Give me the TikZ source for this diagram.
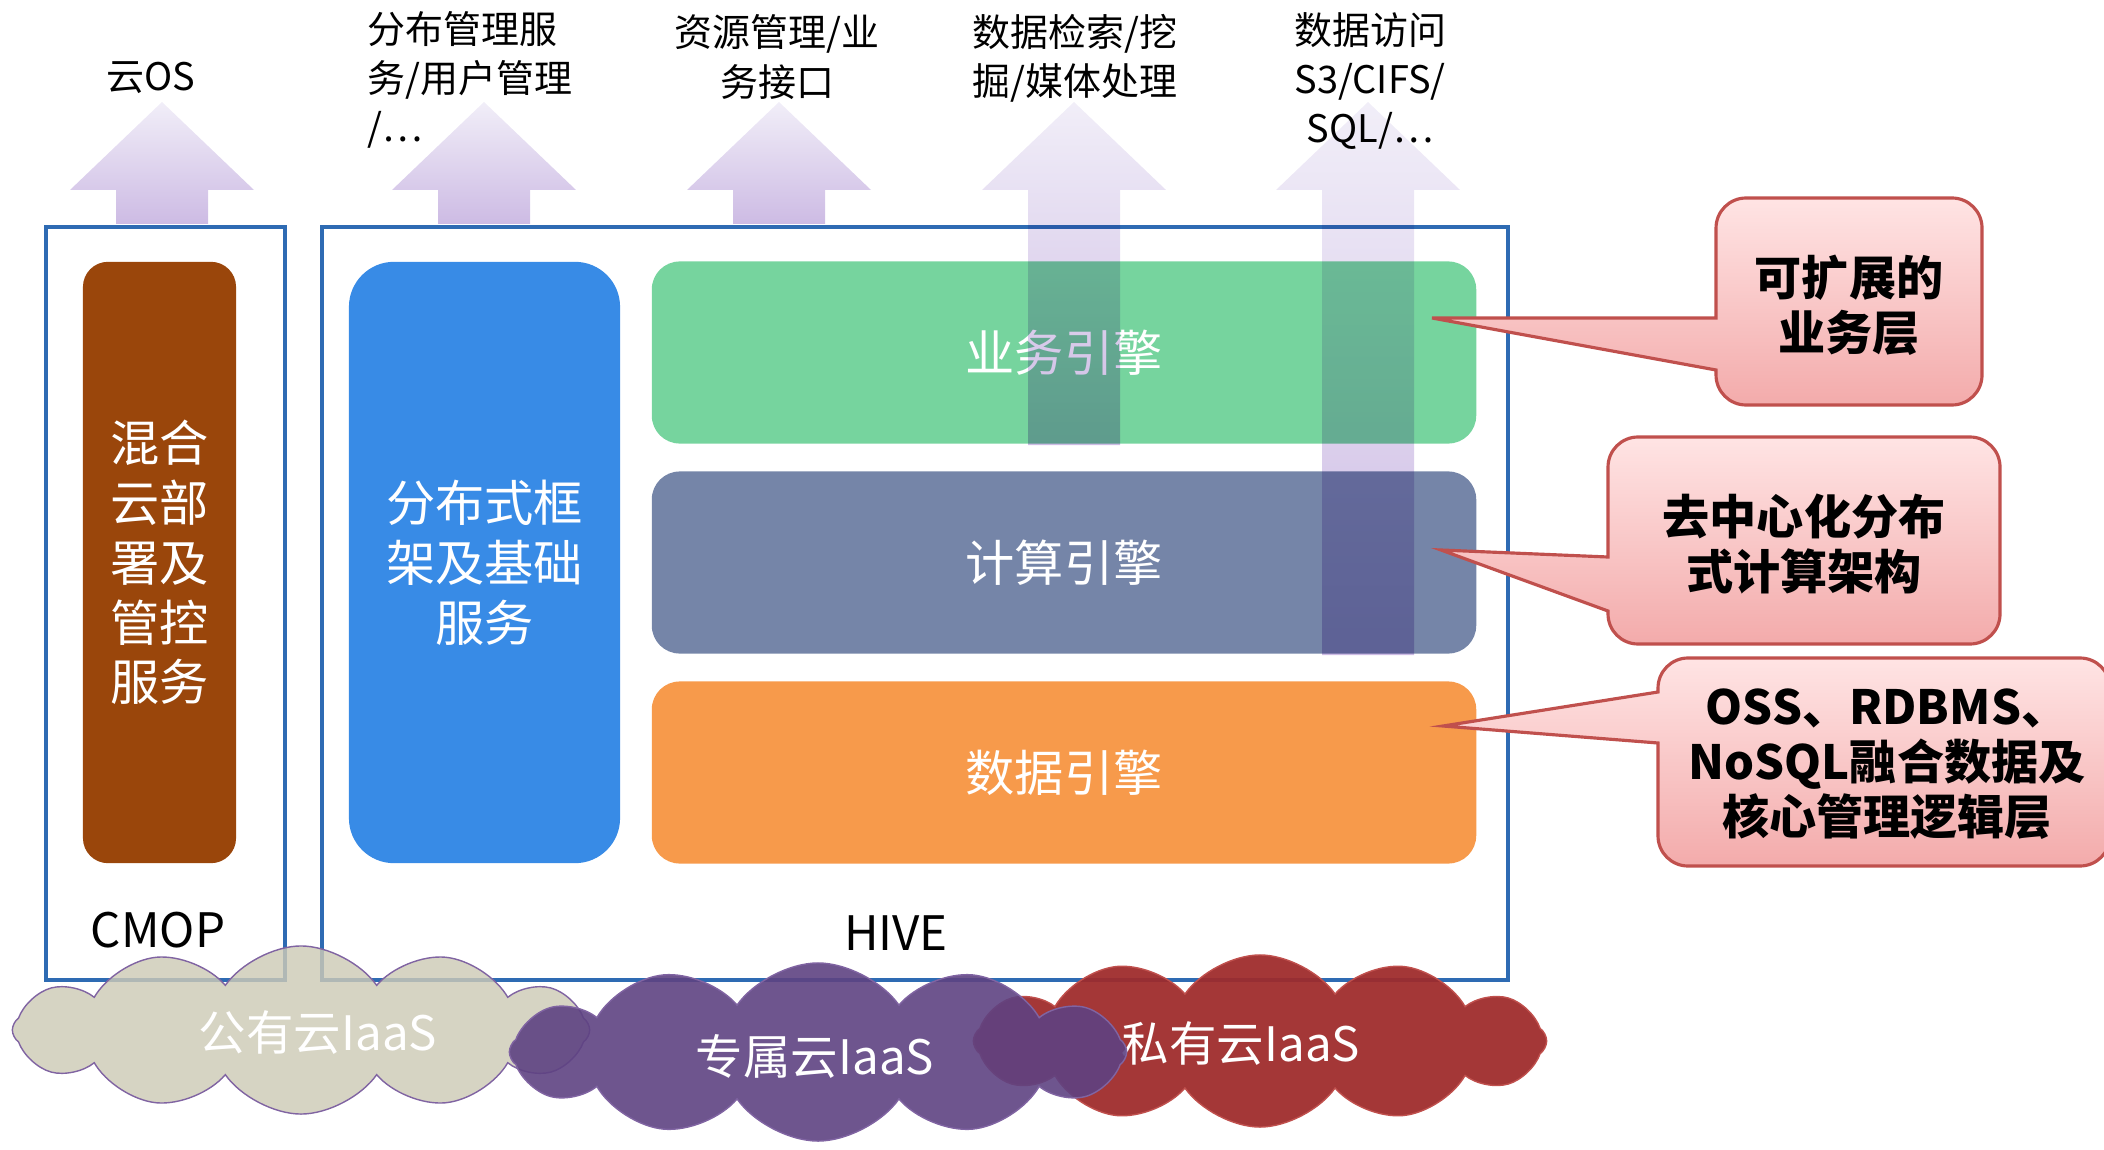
\documentclass[tikz,border=0pt]{standalone}
\usepackage{fontspec}
\setmainfont{Noto Sans CJK SC}
\usetikzlibrary{shapes.symbols}

\definecolor{hiveblue}{HTML}{2E6BB3}
\definecolor{cmopbrown}{HTML}{9A460B}
\definecolor{frameblue}{HTML}{388BE6}
\definecolor{bizgreen}{HTML}{76D49E}
\definecolor{calcslate}{HTML}{7585A8}
\definecolor{dataorange}{HTML}{F79A4B}
\definecolor{arrtop}{HTML}{F1EEF8}
\definecolor{arrbot}{HTML}{CDBBE4}
\definecolor{calltop}{HTML}{FFE4E4}
\definecolor{callbot}{HTML}{F3ABAB}
\definecolor{callline}{HTML}{C0504D}
\definecolor{pubcloud}{HTML}{CDCAB6}
\definecolor{dedcloud}{HTML}{5E4282}
\definecolor{privcloud}{HTML}{9E2B2B}
\definecolor{cloudline}{HTML}{8064A2}

\begin{document}
\begin{tikzpicture}[x=0.01cm, y=-0.01cm,
    frame/.style={draw=hiveblue, line width=1.2pt, inner sep=0pt},
    bar/.style={rounded corners=#1, inner sep=0pt, text=white, align=center,
      font=\fontsize{14}{17}\selectfont},
    engine/.style={bar=0.28cm, minimum width=8.24cm, minimum height=1.82cm},
    toplbl/.style={align=center, font=\fontsize{10.8}{14}\selectfont},
    boxlbl/.style={font=\fontsize{13.5}{16}\selectfont},
    callout/.style={draw=callline, line width=0.9pt, top color=calltop, bottom color=callbot},
    note/.style={align=center, font=\bfseries\fontsize{13.4}{15.6}\selectfont},
    iaas/.style={cloud, cloud puffs=12, cloud puff arc=110, aspect=3, inner sep=0pt},
    iaaslbl/.style={text=white, font=\fontsize{13.5}{16}\selectfont}]
  \useasboundingbox (0,0) rectangle (2104,1149);

  % frames
  \node[frame, minimum width=2.39cm, minimum height=7.53cm] (cmop) at (165.5,603.5) {};
  \node[frame, minimum width=11.86cm, minimum height=7.53cm] (hive) at (915,603.5) {};
  \node[boxlbl] (cmoplbl) at (158,930) {CMOP};
  \node[boxlbl] (hivelbl) at (896,933) {HIVE};

  \node[bar=0.25cm, fill=cmopbrown, minimum width=1.53cm, minimum height=6.01cm] (mgmt)
    at (159.5,562.5) {混合\\云部\\署及\\管控\\服务};
  \node[bar=0.45cm, fill=frameblue, minimum width=2.71cm, minimum height=6.01cm] (dist)
    at (484.5,562.5) {分布式框\\架及基础\\服务};
  \node[engine, fill=bizgreen] (biz) at (1064,352.5) {业务引擎};
  \node[engine, fill=calcslate] (calc) at (1064,562.5) {计算引擎};
  \node[engine, fill=dataorange] (data) at (1064,772.5) {数据引擎};

  % up arrows
  \begin{scope}[blend mode=multiply]
    \foreach \cx/\yb in {162/224,484/224,779/224,1074/445,1368/655}
      \shade[top color=arrtop, bottom color=arrbot] (\cx,102) -- (\cx+92,190)
        -- (\cx+46,190) -- (\cx+46,\yb) -- (\cx-46,\yb) -- (\cx-46,190)
        -- (\cx-92,190) -- cycle;
  \end{scope}

  \node[toplbl] (cloudos) at (151,78) {云OS};
  \node[toplbl, align=left, anchor=west, inner sep=0pt] (usermgmt) at (367,80)
    {分布管理服\\务/用户管理\\/…};
  \node[toplbl] (resmgmt) at (777,57) {资源管理/业\\务接口};
  \node[toplbl] (mining) at (1075,58) {数据检索/挖\\掘/媒体处理};
  \node[toplbl] (access) at (1370,81) {数据访问\\S3/CIFS/\\SQL/…};

  % callouts
  \path[callout] (1716,370) [rounded corners=0.3cm] -- (1716,405) -- (1982,405)
    -- (1982,198) -- (1716,198) [sharp corners] -- (1716,318) -- (1432,318) -- cycle;
  \path[callout] (1608,611) [rounded corners=0.3cm] -- (1608,644) -- (2000,644)
    -- (2000,437) -- (1608,437) [sharp corners] -- (1608,557) -- (1441,550) -- cycle;
  \path[callout] (1658,743) [rounded corners=0.3cm] -- (1658,866) -- (2110,866)
    -- (2110,658) -- (1658,658) [sharp corners] -- (1658,692) -- (1443,726) -- cycle;
  \node[note] (scalable) at (1849,305) {可扩展的\\业务层};
  \node[note] (decentral) at (1804,544) {去中心化分布\\式计算架构};
  \node[note] (corelayer) at (1887,764) {OSS、RDBMS、\\NoSQL融合数据及\\核心管理逻辑层};

  % clouds
  \node[iaas, fill=pubcloud, draw=cloudline, fill opacity=0.82,
    minimum width=5.77cm, minimum height=1.68cm] (pub) at (301,1030) {};
  \node[iaaslbl] (publbl) at (318,1033) {公有云IaaS};
  \node[iaas, fill=privcloud, draw=callline, fill opacity=0.94,
    minimum width=5.73cm, minimum height=1.72cm] (priv) at (1260,1041) {};
  \node[iaaslbl] (privlbl) at (1241,1044) {私有云IaaS};
  \node[iaas, fill=dedcloud, draw=cloudline, fill opacity=0.9,
    minimum width=6.17cm, minimum height=1.78cm] (ded) at (818,1052) {};
  \node[iaaslbl] (dedlbl) at (815,1056) {专属云IaaS};
\end{tikzpicture}
\end{document}
